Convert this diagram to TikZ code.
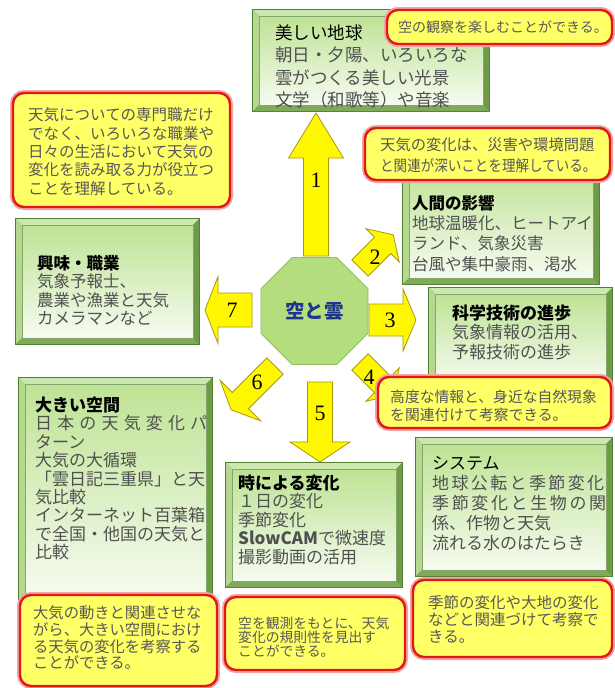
\documentclass[tikz,border=0pt]{standalone}
\usepackage{fontspec}
\usepackage{graphicx}
\setmainfont{Noto Sans CJK JP}
\newfontfamily\numfont{Liberation Serif}
\usetikzlibrary{shapes.geometric,fit}

\definecolor{gdark}{HTML}{4F7F2F}
\definecolor{gtop}{HTML}{CDE8AE}
\definecolor{gleft}{HTML}{B4D88E}
\definecolor{gright}{HTML}{6E9B48}
\definecolor{gbot}{HTML}{7FAA5A}
\definecolor{facetop}{HTML}{BEE394}
\definecolor{facebot}{HTML}{F6FBF0}
\definecolor{cyellow}{HTML}{FFFF66}
\definecolor{cred}{HTML}{E01818}
\definecolor{cglow}{HTML}{F4A3A3}
\definecolor{ayellow}{HTML}{FFF700}
\definecolor{aedge}{HTML}{A89A10}
\definecolor{octfill}{HTML}{B4DE7E}
\definecolor{octedge}{HTML}{94BE5C}
\definecolor{navy}{HTML}{1F3391}
\definecolor{bodygray}{HTML}{505050}
\definecolor{calltext}{HTML}{585858}

\newcommand\gbox[5]{%
  \fill[gdark] (#2,#3) rectangle (#4,#5);
  \fill[gtop] (#2+1,#3+1) -- (#4-1,#3+1) -- (#4-7,#3+7) -- (#2+7,#3+7) -- cycle;
  \fill[gleft] (#2+1,#3+1) -- (#2+7,#3+7) -- (#2+7,#5-7) -- (#2+1,#5-1) -- cycle;
  \fill[gright] (#4-1,#3+1) -- (#4-1,#5-1) -- (#4-7,#5-7) -- (#4-7,#3+7) -- cycle;
  \fill[gbot] (#2+1,#5-1) -- (#4-1,#5-1) -- (#4-7,#5-7) -- (#2+7,#5-7) -- cycle;
  \shade[top color=facetop, bottom color=facebot, draw=gdark!70, line width=0.6pt] (#2+7,#3+7) rectangle (#4-7,#5-7);
  \coordinate (#1-a) at (#2,#3); \coordinate (#1-b) at (#4,#5);
  \node[fit=(#1-a)(#1-b), inner sep=0pt] (#1) {};
}
\newcommand\callout[5]{%
  \draw[callbox] (#2,#3) rectangle (#4,#5);
  \coordinate (#1-a) at (#2,#3); \coordinate (#1-b) at (#4,#5);
  \node[fit=(#1-a)(#1-b), inner sep=0pt] (#1) {};
}
\newcommand\tlines[7][]{%
  \foreach \t [count=\i] in {#7}{%
    \node[anchor=base west, inner sep=0pt, font=\fontsize{#6}{#6}\selectfont, #1] (#2-\i) at (#3,{#4+0.38*#6+(\i-1)*#5}) {\t};}}
\newcommand\barrow[8]{%
  \begin{scope}[shift={(#2,#3)}, rotate=#4]
    \draw[arrowst] (0,-#6/2) -- (#5-#8,-#6/2) -- (#5-#8,-#7/2) -- (#5,0) -- (#5-#8,#7/2) -- (#5-#8,#6/2) -- (0,#6/2) -- cycle;
    \coordinate (#1-tail) at (0,0); \coordinate (#1-tip) at (#5,0);
  \end{scope}}

\begin{document}
\begin{tikzpicture}[x=1pt,y=-1pt,
  arrowst/.style={fill=ayellow, draw=aedge, line width=0.8pt, line join=miter},
  callbox/.style={rounded corners=11pt, fill=cyellow, draw=cred, line width=2.4pt, preaction={draw=cglow, line width=6pt}},
  num/.style={font=\numfont\fontsize{22}{22}\selectfont, inner sep=0pt},
  bodytxt/.style={text=bodygray},
  calltxt/.style={text=calltext},
]
\useasboundingbox (0,0) rectangle (614,688);
\fill[white] (0,0) rectangle (614,688);

% green boxes
\gbox{b4}{428}{287}{613}{390}
\gbox{b2}{402}{160}{600}{285}
\gbox{b1}{252}{9}{490}{112}
\gbox{b3}{15}{218}{200}{345}
\gbox{b5}{18}{377}{213}{605}
\gbox{b6}{225}{462}{403}{588}
\gbox{b7}{415}{437}{613}{577}

\tlines[bodytxt]{t1}{275}{33}{22.3}{17.5}{{\color{black}美しい地球},朝日・夕陽、いろいろな,雲がつくる美しい光景,文学（和歌等）や音楽}
\tlines[bodytxt]{t2}{412}{203}{20.3}{16.5}{{\bfseries\color{black}人間の影響},地球温暖化、ヒートアイ,ランド、気象災害,台風や集中豪雨、渇水}
\tlines[bodytxt]{t3}{37}{263}{18.5}{16.5}{{\bfseries\color{black}興味・職業},気象予報士、,農業や漁業と天気,カメラマンなど}
\tlines[bodytxt]{t4}{452}{313}{19.5}{17}{{\bfseries\color{black}科学技術の進歩},気象情報の活用、,予報技術の進歩}
\tlines[bodytxt]{t5}{35}{405}{18.4}{17}{{\bfseries\color{black}大きい空間},{\makebox[172pt][s]{日\hfil 本\hfil の\hfil 天\hfil 気\hfil 変\hfil 化\hfil パ}},ターン,大気の大循環,「雲日記三重県」と天,気比較,インターネット百葉箱,で全国・他国の天気と,比較}
\tlines[bodytxt]{t6}{238}{483}{18.5}{17}{{\bfseries\color{black}時による変化},１日の変化,季節変化,{\bfseries SlowCAM}で微速度,撮影動画の活用}
\tlines[bodytxt]{t7}{432}{463}{20}{17}{{\color{black}システム},{\makebox[172pt][s]{地\hfil 球\hfil 公\hfil 転\hfil と\hfil 季\hfil 節\hfil 変\hfil 化}},{\makebox[174pt][s]{季\hfil 節\hfil 変\hfil 化\hfil と\hfil 生\hfil 物\hfil の\hfil 関}},係、作物と天気,流れる水のはたらき}

% arrows
\barrow{a1}{316}{256}{90}{143}{25}{55}{45}
\barrow{a2}{360}{268}{45}{47}{23}{47}{15}
\barrow{a3}{369}{320}{0}{47}{32}{62}{13}
\barrow{a4}{360}{362}{-45}{47}{23}{47}{15}
\barrow{a5}{320}{382}{-90}{80}{25}{60}{20}
\barrow{a6}{275}{366}{-135}{62}{23}{57}{13}
\barrow{a7}{252}{310}{180}{47}{34}{67}{13}

\node[regular polygon, regular polygon sides=8, minimum size=116pt, inner sep=0pt, fill=octfill, draw=octedge, line width=0.8pt, text=navy, font=\bfseries\fontsize{19.5}{19.5}\selectfont] (oct) at (314.5,311) {空と雲};

\node[num] (n1) at (316,180) {1};
\node[num] (n2) at (375,257) {2};
\node[num] (n3) at (390,320) {3};
\node[num] (n4) at (369,377) {4};
\node[num] (n5) at (320,413) {5};
\node[num] (n6) at (257,382) {6};
\node[num] (n7) at (232,310) {7};

% callouts
\callout{c1}{387}{10}{612}{44}
\callout{c2}{13}{93}{230}{207}
\callout{c3}{365}{128}{610}{180}
\callout{c4}{378}{377}{611}{428}
\callout{c5}{20}{595}{217}{686}
\callout{c6}{225}{597}{405}{670}
\callout{c7}{413}{580}{612}{657}

\tlines[calltxt]{s1}{398}{27}{0}{14}{空の観察を楽しむことができる。}
\tlines[calltxt]{s2}{28}{115}{18.3}{15.5}{天気についての専門職だけ,でなく、いろいろな職業や,日々の生活において天気の,変化を読み取る力が役立つ,ことを理解している。}
\tlines[calltxt]{s3}{380}{145}{21}{15.3}{天気の変化は、災害や環境問題,{\scalebox{0.885}[1]{と関連が深いことを理解している。}}}
\tlines[calltxt]{s4}{390}{397}{18}{14.8}{高度な情報と、身近な自然現象,を関連付けて考察できる。}
\tlines[calltxt]{s5}{33}{613}{16.7}{15.3}{大気の動きと関連させな,がら、大きい空間におけ,る天気の変化を考察する,ことができる。}
\tlines[calltxt]{s6}{238}{623}{14}{13.8}{空を観測をもとに、天気,変化の規則性を見出す,ことができる。}
\tlines[calltxt]{s7}{428}{603}{17}{15.5}{季節の変化や大地の変化,などと関連づけて考察で,きる。}
\end{tikzpicture}
\end{document}
